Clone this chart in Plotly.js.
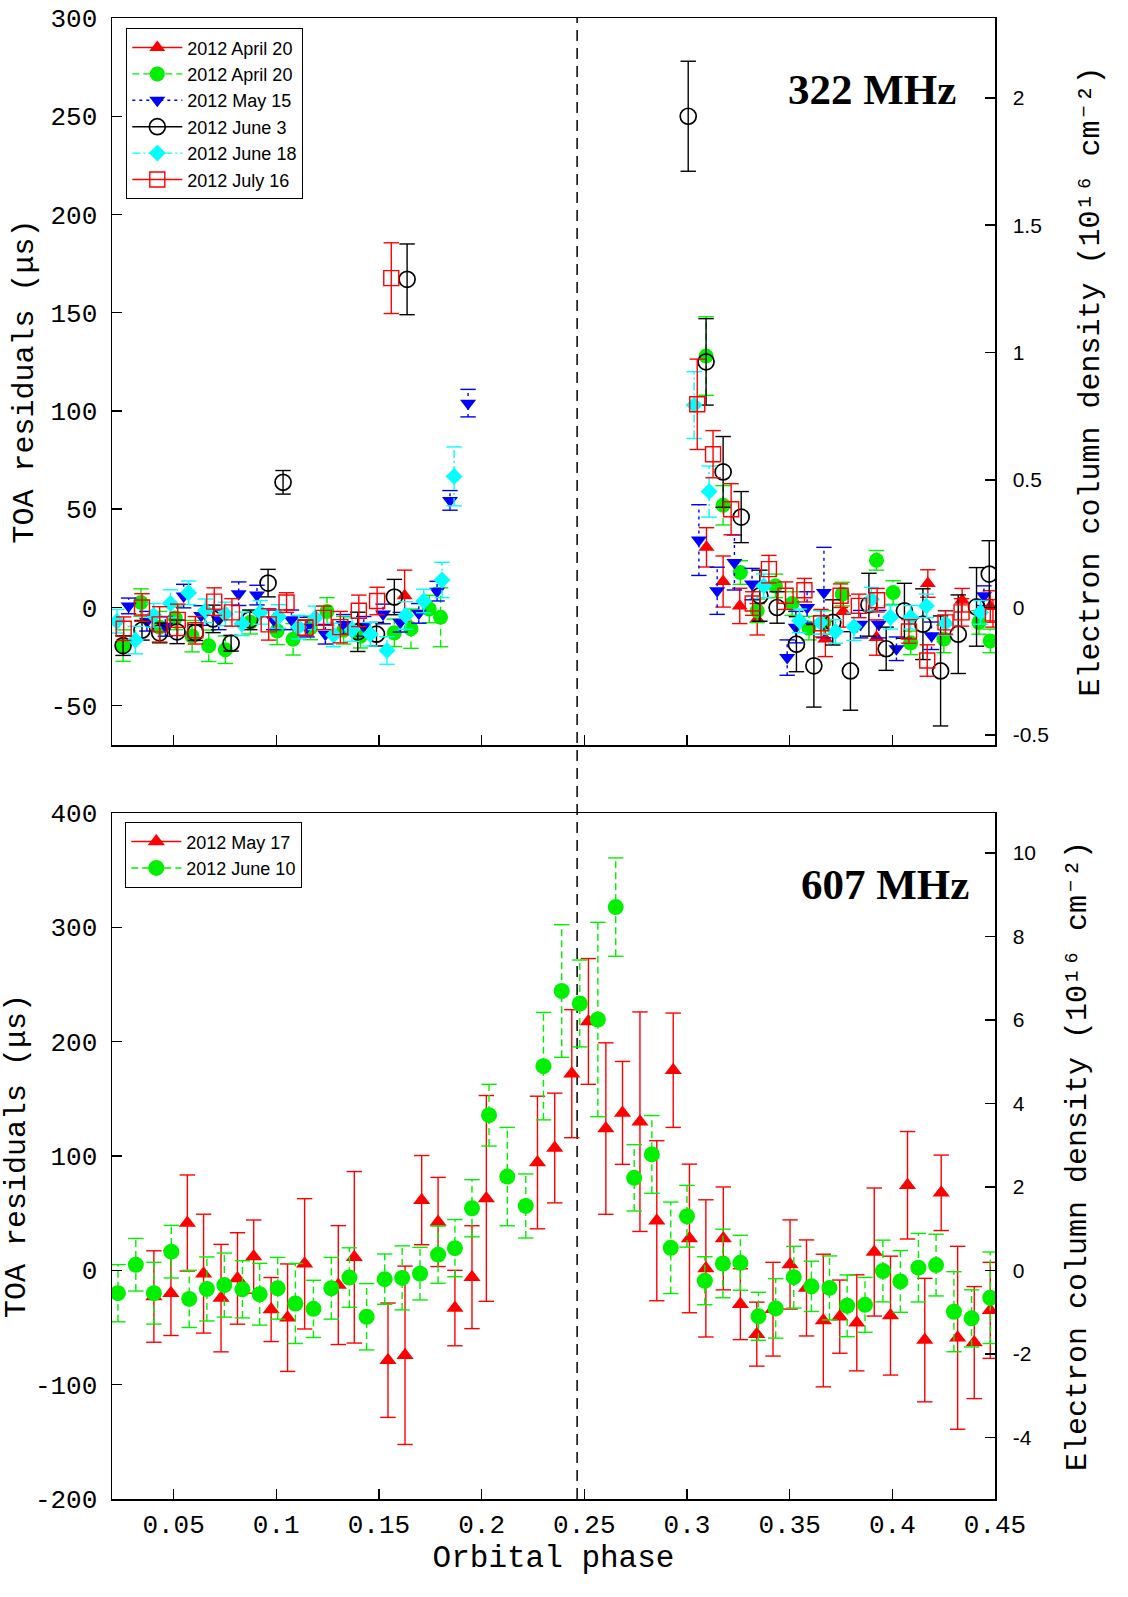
<!DOCTYPE html>
<html>
<head>
<meta charset="utf-8">
<script src="https://cdn.plot.ly/plotly-3.0.1.min.js"></script>
<style>html,body{margin:0;padding:0;background:#fff;}#chart{width:1128px;height:1597px;}</style>
</head>
<body>
<div id="chart"></div>
<script>
// ---------------- DATA ----------------
const conjunctionPhase = 0.2465;
const usPerUnit322 = 129.7;   // µs of delay per 1e16 cm^-2 at 322 MHz
const usPerUnit607 = 36.5;    // µs of delay per 1e16 cm^-2 at 607 MHz

// 322 MHz panel
const legend322 = ['2012 April 20', '2012 April 20', '2012 May 15', '2012 June 3', '2012 June 18', '2012 July 16'];

const aprRedPhase = [0.1625, 0.3095, 0.3176, 0.3257, 0.3342, 0.3674, 0.3761, 0.3923, 0.4173, 0.434, 0.4477];
const aprRedRes   = [6, 30.6, 13.2, 0.8, -6, -16, -2, -15.3, 12.2, 3.7, 0.5];
const aprRedErr   = [13, 10, 13, 9, 8, 9, 8, 9, 7, 6, 8];

const aprGreenPhase = [0.0254,0.0341,0.0432,0.0508,0.059,0.0671,0.0752,0.0874,0.1004,0.1082,0.1166,0.1247,0.1328,0.141,0.1575,0.1656,0.1745,0.1800,
                       0.3093,0.3176,0.326,0.3342,0.3431,0.3512,0.3594,0.3667,0.3756,0.3923,0.4004,0.4089,0.4251,0.4422,0.4477];
const aprGreenRes   = [-19.4,2.5,-10,-5.3,-14.6,-19.5,-21.5,-7.5,-11.9,-16.2,-10.4,-2,-11.6,-14.6,-12.9,-10.8,-0.8,-5,
                       128,52,17.8,-1.7,11,2,-10.5,-7.6,6.8,24,7.6,-18,-16,-7.6,-17];
const aprGreenErr   = [8,7,8,6,8,8,7,6,7,8,6,7,7,6,7,10,7,15,
                       20,10,6,6,6,6,6,6,6,5,6,6,7,6,6];

const mayPhase = [0.0281,0.037,0.046,0.0549,0.0634,0.072,0.0817,0.0906,0.0987,0.1074,0.115,0.1239,0.1328,0.1426,0.152,0.1604,0.1694,0.1783,0.1846,0.1934,
                  0.3058,0.3147,0.3231,0.3317,0.3488,0.353,0.3585,0.3667,0.3845,0.3934,0.402,0.4191,0.4446];
const mayRes   = [0.8,-7,-9.6,5.8,-4.1,-6.3,7,6.3,-6.3,-6.3,-10,-13.6,-8.6,-9.6,-3.3,-7.5,-3,8.3,54.5,104,
                  34.3,8.5,22.9,11.9,-25.5,-10,0,7.6,-8.5,-8.5,-21,-14.4,6];
const mayErr   = [4,5,5,6,5,5,6,5,5,5,5,5,5,5,5,5,5,5,5,7,
                  18,12,14,8,9,8,8,23,7,7,6,7,5];

const jun3Phase = [0.0254,0.0346,0.0432,0.0517,0.0606,0.0692,0.078,0.0871,0.096,0.1033,0.1397,0.1488,0.1575,0.1637,
                   0.3006,0.3093,0.3176,0.3264,0.3355,0.3439,0.3533,0.3618,0.371,0.3796,0.3886,0.397,0.4059,0.4149,0.4235,0.4321,0.441,0.4472];
const jun3Res   = [-19.4,-11.6,-12.9,-12.4,-12.8,-5.8,-18.2,-6.3,12.4,63.7,-12.4,-13.6,5.3,167,
                   250,125,69,46,6,0,-18.7,-29.7,-7.6,-32.3,1.4,-21,-1.7,-8.5,-32.3,-13.6,0.3,17];
const jun3Err   = [5,5,5,6,4,7,4,5,7,6,10,6,9,18,
                   28,22,18,13,13,8,14,21,11.5,20,16,11,14,18,28,20,20,17];

const jun18Phase = [0.0224,0.0314,0.0403,0.0484,0.0573,0.0655,0.0752,0.0833,0.0922,0.1011,0.1109,0.119,0.1279,0.1369,0.1458,0.1539,0.163,0.1718,0.1807,0.1866,
                    0.3035,0.3108,0.3374,0.3548,0.365,0.3723,0.3813,0.3898,0.3991,0.4089,0.4166,0.4259,0.443];
const jun18Res   = [-7,-16.6,-4,2,7.5,-1.7,-3.3,-8.3,-2.5,-4.6,-10,-5.3,-14,-11.3,-13.6,-21.9,-4.1,3.3,14,66.7,
                    103,59,11,-6.8,-7.6,-12.2,-9.8,4.2,-5,-5,0.8,-8,-2.5];
const jun18Err   = [6,7,6,7,6,6,6,6,6,6,6,6,6,6,6,7,7,6,9,15,
                    17,13,6,6,6,6,7,6,6,6,6,6,6];

const julPhase = [0.0257,0.0346,0.0432,0.052,0.0606,0.0698,0.0784,0.0963,0.105,0.1142,0.1231,0.1312,0.1402,0.1491,0.156,
                  0.305,0.3127,0.3215,0.332,0.3399,0.348,0.3572,0.3653,0.3748,0.3837,0.3926,0.4081,0.417,0.4259,0.4337,0.449];
const julRes   = [-10.8,0,-8.6,-6.3,-11.6,3,-2.5,-8.6,2.5,-10.3,-5.3,-10,-1.7,3.3,167.6,
                  103.4,78,50,2,19.5,6,8.8,-8,6,0.8,3.7,-12.2,-27,-7.6,-2.5,-3];
const julErr   = [6,7,9,8,7,7,7,8,5,4,6,8,8,7,18,
                  23,12,13,6,7,7,6,7,6,6,6,6,8,6,7,7];

// 607 MHz panel
const legend607 = ['2012 May 17', '2012 June 10'];

const may17Phase = [0.0404,0.0487,0.0567,0.0646,0.0731,0.0811,0.089,0.0975,0.1055,0.1138,0.1302,0.138,0.1544,0.1627,0.1708,0.1788,0.187,0.1953,0.2023,
                    0.2272,0.2356,0.2439,0.252,0.2605,0.2686,0.2771,0.2853,0.2933,0.3012,0.3092,0.3177,0.326,0.334,0.3419,0.3502,0.3582,0.3664,0.3744,0.3827,
                    0.3912,0.3991,0.4074,0.4158,0.4238,0.4318,0.4399,0.4477];
const may17Res   = [-22.9,-20,41.4,-2.9,-24.3,-7.1,12,-34.3,-41.4,5.7,-12.9,11.4,-78.6,-74.3,61.4,42.3,-33,-6,62.9,
                    94.3,107,172,217.7,124,137.7,130,43.4,175,27.9,1.7,27.9,-29.6,-55.8,-34,5.1,-15.4,-43.9,-40.5,-45.9,
                    16,-39.6,74.4,-61,67.8,-59,-63.2,-35];
const may17Err   = [40,37,42,52,47,40,32,28,47,57,52,75,50,78,39,39,33,45,90,
                    58,48,56,55,75,45,96,70,50,65,60,45,31,28,41,39,42,58,32,42,
                    56,52,47,54,33,80,49,42];

const jun10Phase = [0.0229,0.0316,0.0404,0.0489,0.0576,0.0662,0.0747,0.0835,0.0919,0.1007,0.1093,0.1181,0.1268,0.1356,0.144,0.1528,0.1613,0.17,0.1788,0.187,
                    0.1953,0.2036,0.2125,0.2215,0.2301,0.239,0.2478,0.2566,0.2653,0.2743,0.2829,0.2921,0.3,0.3087,0.3175,0.326,0.3348,0.3432,0.352,0.3606,
                    0.3694,0.378,0.3867,0.3954,0.4039,0.4127,0.4213,0.43,0.4386,0.4477];
const jun10Res   = [-20,4.9,-20,16.3,-25,-16.3,-12.9,-16.6,-20.9,-15.7,-29,-33.7,-15.7,-6.3,-40.6,-7.7,-6.6,-2.9,13.7,19.4,
                    54.3,135.7,82,56.3,178.6,244.3,233.4,219.4,317.7,80.9,101.4,19.7,47.3,-9.1,6,6.6,-40.2,-33.3,-6,-14,
                    -15.4,-31,-30.2,-0.6,-9.7,2.3,4.6,-36.2,-42,-24];
const jun10Err   = [25,23,27,23,25,28,28,25,27,27,35,25,27,26,29,22,28,23,25,25,
                    25,27,43,28,47,58,38,85,43,29,34,40,27,21,30,24,21,26,27,22,
                    28,27,24,27,27,30,27,35,25,40];

// tick labels
const phaseTicks = [0.05,0.1,0.15,0.2,0.25,0.3,0.35,0.4,0.45];
const phaseTickText = ['0.05','0.1','0.15','0.2','0.25','0.3','0.35','0.4','0.45'];
const res322Ticks = [-50,0,50,100,150,200,250,300];
const res322Text = ['-50','0','50','100','150','200','250','300'];
const ne322Ticks = [-0.5,0,0.5,1,1.5,2];
const ne322Text = ['-0.5','0','0.5','1','1.5','2'];
const res607Ticks = [-200,-100,0,100,200,300,400];
const res607Text = ['-200','-100','0','100','200','300','400'];
const ne607Ticks = [-4,-2,0,2,4,6,8,10];
const ne607Text = ['-4','-2','0','2','4','6','8','10'];

const res322Range = [-70, 300];
const res607Range = [-200, 400];
const phaseRange = [0.02, 0.45];

// ---------------- BUILD ----------------
const RED = '#ff0000', GREEN = '#00f000', BLUE = '#0000ff', CYAN = '#00ffff', BLACK = '#000000';
const traces = [];

function addSeries(xs, ys, es, opt) {
  const sx = [], sy = [], cx = [], cy = [];
  xs.forEach((x, i) => {
    sx.push(x, x, null); sy.push(ys[i] - es[i], ys[i] + es[i], null);
    cx.push(x, x); cy.push(ys[i] - es[i], ys[i] + es[i]);
  });
  traces.push({type:'scatter', mode:'lines', x:sx, y:sy, xaxis:opt.xa, yaxis:opt.ya,
    line:{color:opt.barColor, width:1.4, dash:opt.dash}, showlegend:false, hoverinfo:'skip'});
  traces.push({type:'scatter', mode:'markers', x:cx, y:cy, xaxis:opt.xa, yaxis:opt.ya,
    marker:{symbol:'line-ew', size:11, color:opt.barColor, line:{color:opt.barColor, width:1.4}},
    showlegend:false, hoverinfo:'skip'});
  traces.push({type:'scatter', mode:'markers', x:xs, y:ys, xaxis:opt.xa, yaxis:opt.ya,
    marker:opt.marker, showlegend:false, name:opt.name});
}
function addLegend(name, opt, legendId) {
  traces.push({type:'scatter', mode:'lines+markers', x:[null], y:[null], xaxis:opt.xa, yaxis:opt.ya,
    name:name, legend:legendId, showlegend:true,
    line:{color:opt.barColor, width:1.4, dash:opt.dash}, marker:opt.marker});
}

const topRef = {xa:'x2', ya:'y2'};
const botRef = {xa:'x', ya:'y'};
const s322 = [
  [aprRedPhase, aprRedRes, aprRedErr, {barColor:RED, dash:'solid', marker:{symbol:'triangle-up', size:14, color:RED}}],
  [aprGreenPhase, aprGreenRes, aprGreenErr, {barColor:GREEN, dash:'7px,4px', marker:{symbol:'circle', size:15, color:GREEN}}],
  [mayPhase, mayRes, mayErr, {barColor:BLUE, dash:'3px,4px', marker:{symbol:'triangle-down', size:14, color:BLUE}}],
  [jun3Phase, jun3Res, jun3Err, {barColor:BLACK, dash:'solid', marker:{symbol:'circle-open', size:16, color:BLACK, line:{color:BLACK, width:1.7}}}],
  [jun18Phase, jun18Res, jun18Err, {barColor:CYAN, dash:'8px,3px,2px,3px', marker:{symbol:'diamond', size:13, color:CYAN}}],
  [julPhase, julRes, julErr, {barColor:RED, dash:'solid', marker:{symbol:'square-open', size:15, color:RED, line:{color:RED, width:1.4}}}]
];
s322.forEach((s, i) => {
  const opt = Object.assign({}, s[3], topRef, {name: legend322[i]});
  addSeries(s[0], s[1], s[2], opt);
});
s322.forEach((s, i) => addLegend(legend322[i], Object.assign({}, s[3], topRef), 'legend'));
// column-density companion (makes the right-hand axis exist; invisible)
traces.push({type:'scatter', mode:'markers', x:jun3Phase, y:jun3Res.map(v => v / usPerUnit322), xaxis:'x2', yaxis:'y4',
  marker:{opacity:0, size:1}, showlegend:false, hoverinfo:'skip'});

const s607 = [
  [may17Phase, may17Res, may17Err, {barColor:RED, dash:'solid', marker:{symbol:'triangle-up', size:15, color:RED}}],
  [jun10Phase, jun10Res, jun10Err, {barColor:GREEN, dash:'7px,4px', marker:{symbol:'circle', size:16, color:GREEN}}]
];
s607.forEach((s, i) => {
  const opt = Object.assign({}, s[3], botRef, {name: legend607[i]});
  addSeries(s[0], s[1], s[2], opt);
});
s607.forEach((s, i) => addLegend(legend607[i], Object.assign({}, s[3], botRef), 'legend2'));
traces.push({type:'scatter', mode:'markers', x:jun10Phase, y:jun10Res.map(v => v / usPerUnit607), xaxis:'x', yaxis:'y3',
  marker:{opacity:0, size:1}, showlegend:false, hoverinfo:'skip'});

const monoTick = {family:'Liberation Mono, Courier New, monospace', size:26, color:'#000'};
const sansTick = {family:'Liberation Sans, Arial, sans-serif', size:21, color:'#000'};
const titleFont = {family:'Liberation Mono, DejaVu Sans Mono, monospace', size:30, color:'#000'};
const axisCommon = {showgrid:false, zeroline:false, showline:true, linecolor:'#000', linewidth:1.5,
  ticks:'inside', ticklen:10, tickwidth:1.5, tickcolor:'#000'};

const BOT_DOMAIN = [0, 0.4632], TOP_DOMAIN = [0.5091, 1];
const neTitle = 'Electron column density (10\u00B9\u2076 cm\u207B\u00B2)';

const annotations = [
  {text:'<b>322 MHz</b>', xref:'paper', yref:'paper', x:0.8607, y:0.9514, xanchor:'center', yanchor:'middle', showarrow:false,
    font:{family:'Liberation Serif, Times New Roman, serif', size:43, color:'#000'}},
  {text:'<b>607 MHz</b>', xref:'paper', yref:'paper', x:0.8754, y:0.4146, xanchor:'center', yanchor:'middle', showarrow:false,
    font:{family:'Liberation Serif, Times New Roman, serif', size:43, color:'#000'}}
];

const legendCommon = {bgcolor:'#fff', bordercolor:'#000', borderwidth:1.3,
  font:{family:'Liberation Sans, Arial, sans-serif', size:18, color:'#000'},
  tracegroupgap:0, traceorder:'normal', xanchor:'left', yanchor:'top', itemwidth:50};

const layout = {
  width:1128, height:1597,
  margin:{l:112, r:133, t:18, b:98},
  paper_bgcolor:'#fff', plot_bgcolor:'rgba(0,0,0,0)',
  showlegend:true,
  xaxis: Object.assign({}, axisCommon, {domain:[0,1], anchor:'y', range:phaseRange,
    tickmode:'array', tickvals:phaseTicks, ticktext:phaseTickText, tickfont:monoTick, mirror:true,
    ticklabelstandoff:1,
    title:{text:'Orbital phase', font:Object.assign({}, titleFont, {size:31}), standoff:2}}),
  yaxis: Object.assign({}, axisCommon, {domain:BOT_DOMAIN, anchor:'x', range:res607Range,
    tickmode:'array', tickvals:res607Ticks, ticktext:res607Text, tickfont:monoTick, ticklabelstandoff:8,
    title:{text:'TOA residuals (μs)', font:titleFont, standoff:0}}),
  yaxis3: Object.assign({}, axisCommon, {domain:BOT_DOMAIN, overlaying:'y', side:'right', anchor:'x',
    range:[res607Range[0]/usPerUnit607, res607Range[1]/usPerUnit607],
    tickmode:'array', tickvals:ne607Ticks, ticktext:ne607Text, tickfont:sansTick, ticklabelstandoff:12,
    title:{text:neTitle, font:titleFont, standoff:30}}),
  xaxis2: Object.assign({}, axisCommon, {domain:[0,1], anchor:'y2', range:phaseRange,
    tickmode:'array', tickvals:phaseTicks, showticklabels:false, mirror:true}),
  yaxis2: Object.assign({}, axisCommon, {domain:TOP_DOMAIN, anchor:'x2', range:res322Range,
    tickmode:'array', tickvals:res322Ticks, ticktext:res322Text, tickfont:monoTick, ticklabelstandoff:8,
    title:{text:'TOA residuals (μs)', font:titleFont, standoff:8}}),
  yaxis4: Object.assign({}, axisCommon, {domain:TOP_DOMAIN, overlaying:'y2', side:'right', anchor:'x2',
    range:[res322Range[0]/usPerUnit322, res322Range[1]/usPerUnit322],
    tickmode:'array', tickvals:ne322Ticks, ticktext:ne322Text, tickfont:sansTick, ticklabelstandoff:12,
    title:{text:neTitle, font:titleFont, standoff:30}}),
  legend: Object.assign({}, legendCommon, {x:0.01586, y:0.99325}),
  legend2: Object.assign({}, legendCommon, {x:0.01472, y:0.4571}),
  shapes:[
    {type:'line', layer:'below', xref:'x', yref:'paper', x0:conjunctionPhase, x1:conjunctionPhase, y0:0, y1:1,
      line:{color:'#000', width:1.5, dash:'11px,7px'}}
  ],
  annotations: annotations
};

Plotly.newPlot('chart', traces, layout, {displayModeBar:false, staticPlot:true});
</script>
</body>
</html>
